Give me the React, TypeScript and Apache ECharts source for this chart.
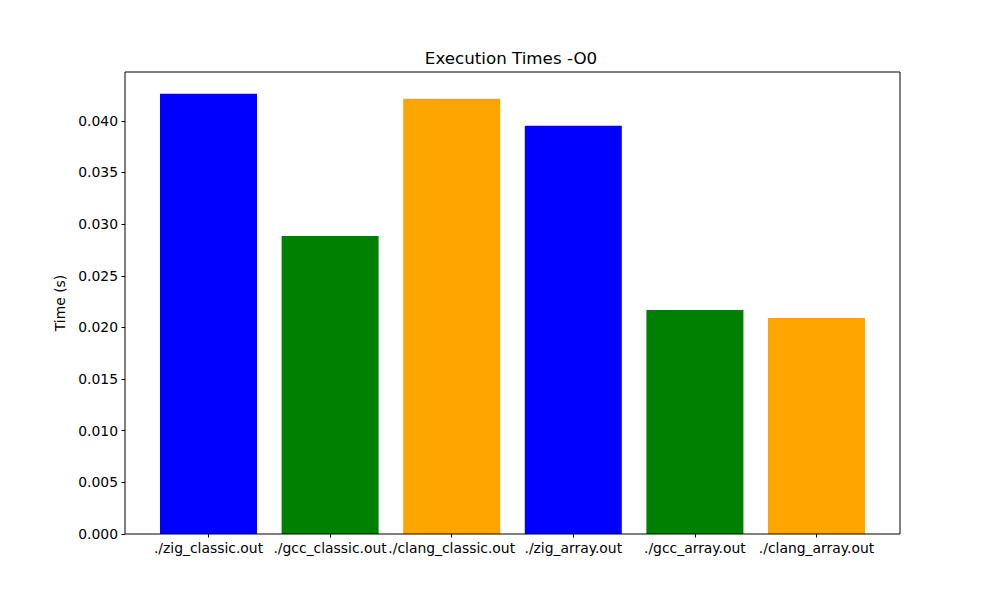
import React, { useEffect, useRef } from "react";
import * as echarts from "echarts";

const categories = [
  "./zig_classic.out",
  "./gcc_classic.out",
  "./clang_classic.out",
  "./zig_array.out",
  "./gcc_array.out",
  "./clang_array.out",
];
const times = [0.04262, 0.02886, 0.04213, 0.03952, 0.02169, 0.02092];
const barColors = ["#0000ff", "#008000", "#ffa500", "#0000ff", "#008000", "#ffa500"];
const yTicks = [0, 0.005, 0.01, 0.015, 0.02, 0.025, 0.03, 0.035, 0.04];
const yMax = 0.04473;

const FONT = "DejaVu Sans";

export default function App() {
  const ref = useRef<HTMLDivElement>(null);
  useEffect(() => {
    if (!ref.current) return;
    const chart = echarts.init(ref.current, null, { renderer: "svg" });
    chart.setOption({
      animation: false,
      backgroundColor: "#ffffff",
      title: {
        text: "Execution Times -O0",
        left: 506,
        textAlign: "center",
        top: 44,
        textStyle: { fontFamily: FONT, fontSize: 16.7, fontWeight: "normal", color: "#000" },
      },
      grid: { left: 147.7, top: 72, width: 729.6, height: 462, containLabel: false },
      xAxis: {
        type: "category",
        data: categories,
        axisLine: { show: false },
        axisTick: { show: true, alignWithLabel: true, length: 3.5, lineStyle: { color: "#000", width: 1 } },
        axisLabel: { fontFamily: FONT, fontSize: 13.9, color: "#000", margin: 7, interval: 0 },
        splitLine: { show: false },
      },
      yAxis: {
        type: "value",
        min: 0,
        max: yMax,
        offset: 22.7,
        name: "Time (s)",
        nameLocation: "middle",
        nameGap: 55,
        nameTextStyle: { fontFamily: FONT, fontSize: 13.9, color: "#000" },
        axisLine: { show: false },
        axisTick: { show: true, length: 3.5, lineStyle: { color: "#000", width: 1 }, customValues: yTicks },
        axisLabel: {
          fontFamily: FONT,
          fontSize: 13.9,
          color: "#000",
          margin: 7,
          customValues: yTicks,
          formatter: (v: number) => v.toFixed(3),
        },
        splitLine: { show: false },
      },
      series: [
        {
          type: "bar",
          barWidth: 97,
          data: times.map((v, i) => ({ value: v, itemStyle: { color: barColors[i] } })),
        },
      ],
      graphic: [
        {
          type: "rect",
          shape: { x: 125, y: 72, width: 775, height: 462 },
          style: { fill: "none", stroke: "#000", lineWidth: 1 },
          z: 100,
        },
      ],
    });
    return () => chart.dispose();
  }, []);
  return (
    <div
      ref={ref}
      style={{ position: "absolute", left: 0, top: 0, width: 1000, height: 600 }}
    />
  );
}
